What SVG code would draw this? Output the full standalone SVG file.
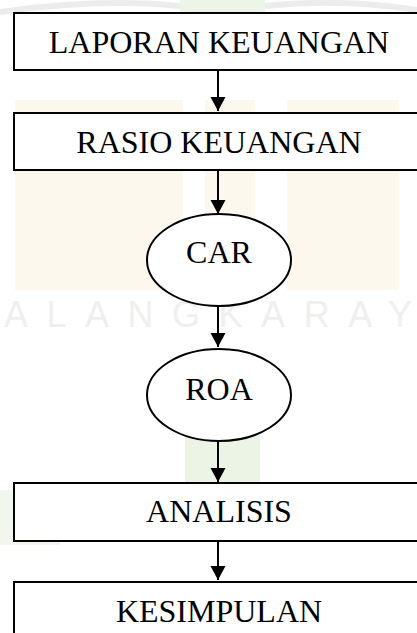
<svg xmlns="http://www.w3.org/2000/svg" width="417" height="633" viewBox="0 0 417 633">
<style>
.box{fill:#fff;stroke:#000;stroke-width:2}
.ell{fill:#fff;stroke:#000;stroke-width:2}
.lbl{font-family:"Liberation Serif","Times New Roman",serif;font-size:32px;fill:#000;text-anchor:middle}
.edge{stroke:#000;stroke-width:2;fill:none}
.wm{font-family:"Liberation Sans",Arial,sans-serif;font-size:36px;fill:#efefef}
</style>
<defs>
<marker id="arr" markerUnits="userSpaceOnUse" markerWidth="16" markerHeight="16" refX="14" refY="8" orient="auto">
<path d="M0,0.5 L14,8 L0,15.5 Z" fill="#000"/>
</marker>
</defs>
<rect width="417" height="633" fill="#fff"/>
<g id="watermark">
<rect x="180" y="0" width="85" height="13" fill="#edf4e8"/>
<path d="M0,12 Q100,-2 180,6" stroke="#ececec" stroke-width="6" fill="none"/>
<path d="M265,6 Q340,-2 417,10" stroke="#ececec" stroke-width="6" fill="none"/>
<rect x="15" y="100" width="168" height="190" fill="#fdf8ee"/>
<rect x="205" y="100" width="50" height="190" fill="#fdf8ee"/>
<rect x="287" y="100" width="112" height="190" fill="#fdf8ee"/>
<rect x="185" y="430" width="75" height="55" fill="#ebf4e5"/>
<rect x="0" y="490" width="60" height="55" fill="#f1f7ee"/>
<text class="wm" x="4" y="327" textLength="408" lengthAdjust="spacing">ALANGKARAY</text>
</g>
<g id="connectors">
<line class="edge" x1="218" y1="70" x2="218" y2="111" marker-end="url(#arr)"/>
<line class="edge" x1="218" y1="170" x2="218" y2="214" marker-end="url(#arr)"/>
<line class="edge" x1="218" y1="306" x2="218" y2="347" marker-end="url(#arr)"/>
<line class="edge" x1="218" y1="441" x2="218" y2="482" marker-end="url(#arr)"/>
<line class="edge" x1="218" y1="541" x2="218" y2="580" marker-end="url(#arr)"/>
</g>
<g id="laporan">
<rect class="box" x="14" y="13" width="410" height="57"/>
<text class="lbl" x="219" y="53">LAPORAN KEUANGAN</text>
</g>
<g id="rasio">
<rect class="box" x="14" y="113" width="410" height="57"/>
<text class="lbl" x="219" y="153">RASIO KEUANGAN</text>
</g>
<g id="car">
<ellipse class="ell" cx="219" cy="260" rx="72" ry="46"/>
<text class="lbl" x="219" y="263">CAR</text>
</g>
<g id="roa">
<ellipse class="ell" cx="219" cy="395" rx="72" ry="46"/>
<text class="lbl" x="219" y="400">ROA</text>
</g>
<g id="analisis">
<rect class="box" x="14" y="483" width="410" height="58"/>
<text class="lbl" x="219" y="522">ANALISIS</text>
</g>
<g id="kesimpulan">
<rect class="box" x="14" y="582" width="410" height="70"/>
<text class="lbl" x="219" y="622">KESIMPULAN</text>
</g>
</svg>
